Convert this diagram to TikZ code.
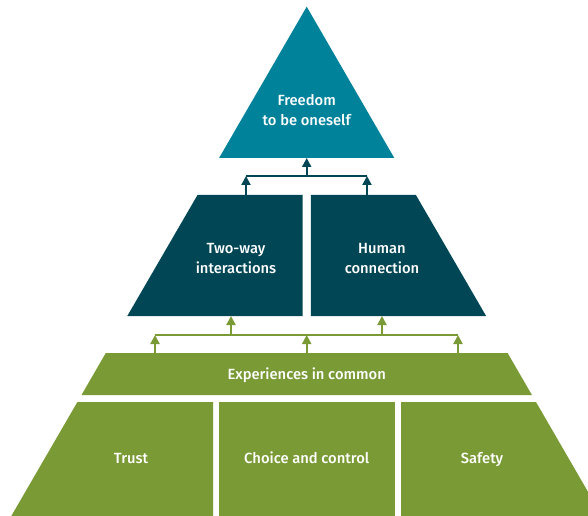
\documentclass[tikz,border=0pt]{standalone}
\usepackage{fontspec}
\setmainfont{Fira Sans}[UprightFont=* Medium]
\usetikzlibrary{arrows.meta}
\definecolor{topteal}{RGB}{0,130,155}
\definecolor{darkteal}{RGB}{0,70,85}
\definecolor{leafgreen}{RGB}{122,154,53}
\begin{document}
\begin{tikzpicture}[x=1bp,y=-1bp,
  lbl/.style={text=white,font=\fontsize{14.8}{20}\selectfont,align=center,inner sep=0pt},
  oneline/.style={lbl,anchor=base},
  darr/.style={draw=darkteal,line width=2bp,-{Triangle[width=9bp,length=9bp]}},
  gbar/.style={draw=leafgreen,line width=2bp},
  dbar/.style={draw=darkteal,line width=2bp},
  garr/.style={draw=leafgreen,line width=2bp,-{Triangle[width=9bp,length=9bp]}}]
\useasboundingbox (0,0) rectangle (588,516);
\clip (0,0) rectangle (588,516);
% shapes
\fill[topteal] (306.7,6.7) -- (394.3,158) -- (219.1,158) -- cycle;
\fill[darkteal] (197.5,195) -- (302.5,195) -- (302.5,316) -- (127.3,316) -- cycle;
\fill[darkteal] (310.9,195) -- (415.9,195) -- (486.1,316) -- (310.9,316) -- cycle;
\fill[leafgreen] (105.8,353) -- (507.6,353) -- (531.9,395) -- (81.5,395) -- cycle;
\fill[leafgreen] (77.4,402) -- (213,402) -- (213,516) -- (11.3,516) -- cycle;
\fill[leafgreen] (219,402) -- (395,402) -- (395,516) -- (219,516) -- cycle;
\fill[leafgreen] (401,402) -- (536,402) -- (602,516) -- (401,516) -- cycle;
% labels
\node[lbl] (free) at (306.7,110) {Freedom\\to be oneself};
\node[lbl] (two) at (236,258.5) {Two-way\\interactions};
\node[lbl] (hum) at (382,258.5) {Human\\connection};
\node[oneline] (exp) at (306.7,379.5) {Experiences in common};
\node[oneline] (trust) at (131,463.5) {Trust};
\node[oneline] (choice) at (306.7,463.5) {Choice and control};
\node[oneline] (safe) at (482,463.5) {Safety};
% connection points
\coordinate (tribase) at (306.7,158);
\coordinate (dbc) at (306.7,176);
\coordinate (dbl) at (246,176);
\coordinate (dbr) at (367,176);
\coordinate (twotop) at (246,195);
\coordinate (humtop) at (367,195);
\coordinate (twobot) at (231,316);
\coordinate (humbot) at (382,316);
\coordinate (gb1) at (231,335);
\coordinate (gb2) at (382,335);
\coordinate (gbl) at (155,335);
\coordinate (gbc) at (306.7,335);
\coordinate (gbr) at (458,335);
\coordinate (e1) at (155,353);
\coordinate (e2) at (306.7,353);
\coordinate (e3) at (458,353);
% dark connectors
\draw[dbar] (dbl) -- (dbr);
\draw[darr] (twotop) -- (dbl);
\draw[darr] (humtop) -- (dbr);
\draw[darr] (dbc) -- (tribase);
% green connectors
\draw[gbar] (gbl) -- (gbr);
\draw[garr] (gb1) -- (twobot);
\draw[garr] (gb2) -- (humbot);
\draw[garr] (e1) -- (gbl);
\draw[garr] (e2) -- (gbc);
\draw[garr] (e3) -- (gbr);
\end{tikzpicture}
\end{document}
